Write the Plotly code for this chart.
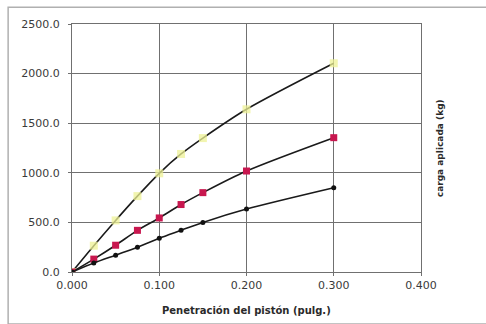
import plotly.graph_objects as go

# Penetración (pulg.) y carga aplicada (kg) para los tres especímenes
penetracion = [0.000, 0.025, 0.050, 0.075, 0.100, 0.125, 0.150, 0.200, 0.300]
carga_a = [0, 265, 520, 765, 995, 1190, 1350, 1640, 2104]
carga_b = [0, 130, 270, 420, 545, 680, 800, 1018, 1354]
carga_c = [0, 90, 170, 250, 340, 420, 500, 635, 850]

x_ticks = [0.0, 0.1, 0.2, 0.3, 0.4]
y_ticks = [0, 500, 1000, 1500, 2000, 2500]

fig = go.Figure()

series = [
    (carga_a, "square", "rgba(238,242,150,0.75)", 8),
    (carga_b, "square", "#c8174f", 7),
    (carga_c, "circle", "#111111", 5),
]
for values, symbol, color, size in series:
    fig.add_trace(go.Scatter(
        x=penetracion, y=values, mode="lines+markers",
        line=dict(color="#1a1a1a", width=1.6, shape="spline", smoothing=0.8),
        marker=dict(symbol=symbol, color=color, size=size, line=dict(width=0)),
        showlegend=False,
    ))

axis_font = dict(family="DejaVu Sans", size=11, color="#3a3a3a")
fig.update_xaxes(
    range=[0, 0.4], tickvals=x_ticks, tickformat=".3f",
    showgrid=True, gridcolor="#707070", gridwidth=1.2,
    showline=True, linecolor="#707070", linewidth=1.2, mirror=True,
    ticks="outside", ticklen=3, tickcolor="#707070",
    tickfont=axis_font, zeroline=False,
)
fig.update_yaxes(
    range=[0, 2500], tickvals=y_ticks, tickformat=".1f",
    showgrid=True, gridcolor="#707070", gridwidth=1.2,
    showline=True, linecolor="#707070", linewidth=1.2, mirror=True,
    ticks="outside", ticklen=3, tickcolor="#707070",
    tickfont=axis_font, zeroline=False, ticklabelstandoff=6,
)

fig.add_annotation(
    text="<b>Penetración del pistón (pulg.)</b>", xref="paper", yref="paper",
    x=0.5, y=-0.155, xanchor="center", yanchor="middle", showarrow=False,
    font=dict(family="DejaVu Sans", size=10, color="#2a2a2a"),
)
fig.add_annotation(
    text="<b>carga aplicada (kg)</b>", xref="paper", yref="paper",
    x=1.055, y=0.5, xanchor="center", yanchor="middle", showarrow=False,
    textangle=-90,
    font=dict(family="DejaVu Sans", size=9, color="#2a2a2a"),
)

# Marco exterior del gráfico
fig.add_shape(
    type="rect", xref="paper", yref="paper",
    x0=-0.183, y0=-0.21, x1=1.19, y1=1.068,
    line=dict(color="#b0b0b0", width=1.5), layer="below",
)

fig.update_layout(
    width=486, height=324,
    margin=dict(l=72, r=65, t=24, b=52),
    paper_bgcolor="white", plot_bgcolor="white",
)

fig.write_html("out.html")
